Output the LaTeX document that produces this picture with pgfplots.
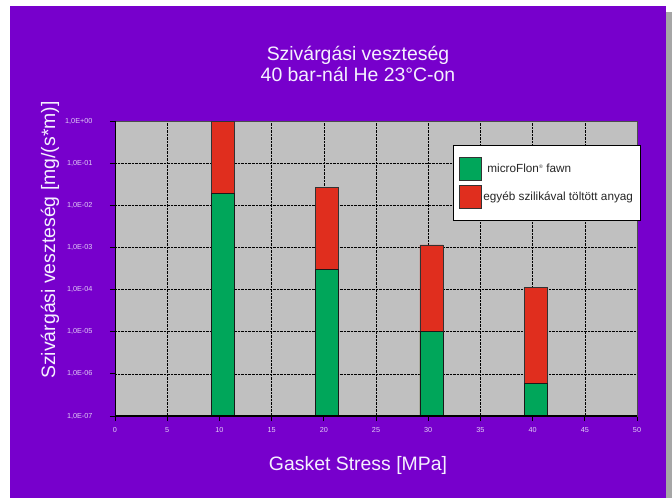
\documentclass[border=0pt]{standalone}
\usepackage{pgfplots}
\pgfplotsset{compat=1.18}
\usepackage{fontspec}
\setmainfont{Liberation Sans}
\definecolor{bgpurple}{RGB}{119,0,204}
\definecolor{plotgray}{RGB}{192,192,192}
\definecolor{bargreen}{RGB}{0,166,90}
\definecolor{barred}{RGB}{224,46,30}
\definecolor{ticklab}{RGB}{225,205,245}
\definecolor{txt}{RGB}{245,240,255}
\begin{document}
\begin{tikzpicture}
% background: page 672x498 bp, axis origin at pixel (115,416)
\fill[white] (-115bp,-82bp) rectangle (557bp,416bp);
\fill[gray!70] (-103bp,-82bp) rectangle (557bp,404bp);
\fill[bgpurple] (-105bp,-82bp) rectangle (551bp,410bp);
\begin{axis}[
  scale only axis,
  width=522bp, height=295bp,
  at={(0,0)}, anchor=south west,
  xmin=0, xmax=50,
  ymode=log, ymin=1e-7, ymax=1,
  log origin=infty,
  axis background/.style={fill=plotgray},
  axis line style={draw=gray!60!black, line width=0.6pt},
  xtick={0,5,...,50},
  ytick={1e-7,1e-6,1e-5,1e-4,1e-3,1e-2,1e-1,1},
  yticklabels={{1,0E-07},{1,0E-06},{1,0E-05},{1,0E-04},{1,0E-03},{1,0E-02},{1,0E-01},{1,0E+00}},
  yminorticks=false,
  ymajorgrids, xmajorgrids,
  major grid style={black, densely dotted, line width=0.6pt},
  tick style={black, line width=0.8pt},
  major tick length=5bp,
  xtick pos=bottom, ytick pos=left,
  xtick align=center, ytick align=outside,
  tick label style={font=\fontsize{7.3}{8}\selectfont, text=ticklab},
  yticklabel style={xshift=-14bp},
  xticklabel style={yshift=-3bp},
  /pgf/number format/assume math mode=true,
  ybar, bar width=2.2, bar shift=0pt,
  reverse legend,
  legend image code/.code={\draw[#1, draw=black!80, line width=0.6pt] (0bp,-11.5bp) rectangle (22bp,11.5bp);},
  legend style={at={(rel axis cs:0.6475,0.9186)}, anchor=north west,
    draw=black, line width=0.6pt, fill=white,
    inner xsep=6bp, inner ysep=12bp, row sep=4bp,
    font=\fontsize{11.8}{13}\selectfont, text=black!85,
    nodes={inner xsep=1.5bp},
    cells={anchor=west}},
]
\addplot[fill=barred, draw=black!80, line width=0.6pt] coordinates {(10.3,1) (20.3,0.0267) (30.3,0.00115) (40.3,0.000115)};
\addlegendentry{egyéb szilikával töltött anyag}
\addplot[fill=bargreen, draw=black!90, line width=0.6pt] coordinates {(10.3,0.0192) (20.3,0.00030) (30.3,0.0000100) (40.3,0.00000060)};
\addlegendentry{\hspace{4bp}microFlon\textsuperscript{\tiny ®} fawn}
\draw[black, line width=1.2pt] (rel axis cs:0,0) -- (rel axis cs:1,0);
\draw[black, line width=1.2pt] (rel axis cs:0,0) -- (rel axis cs:0,1);
\end{axis}
\node[text=txt, font=\fontsize{19.5}{21}\selectfont, align=center] at (243bp,352bp) {Szivárgási veszteség\\40 bar-nál He 23°C-on};
\node[text=txt, font=\fontsize{19.5}{21}\selectfont] at (243bp,-49bp) {Gasket Stress [MPa]};
\node[text=txt, font=\fontsize{19.5}{21}\selectfont, rotate=90] at (-65bp,176bp) {Szivárgási veszteség [mg/(s*m)]};
\end{tikzpicture}
\end{document}
